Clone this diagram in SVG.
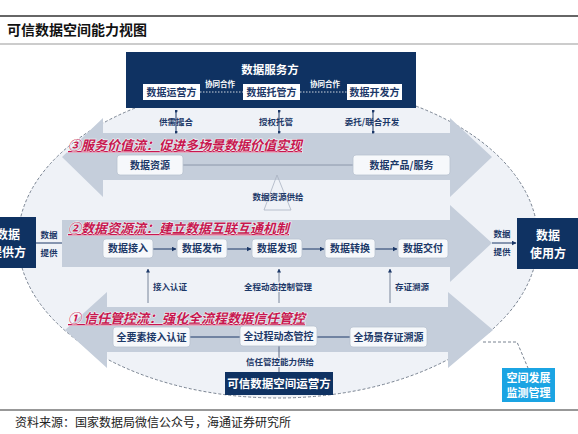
<svg xmlns="http://www.w3.org/2000/svg" width="578" height="434" viewBox="0 0 578 434">
<defs>
<style>
text{font-family:"Noto Sans CJK SC","Noto Sans",sans-serif}
.navy{fill:#0f3262}
.band{fill:#c5cedb}
.wbox{fill:#f6f8fb;stroke:#b9c3d1;stroke-width:0.8}
.wt{fill:#1c3868;font-weight:bold;font-size:10px;text-anchor:middle}
.sl{fill:#1c3868;font-weight:bold;font-size:8.5px;text-anchor:middle}
.flow{fill:#c8174f;font-weight:bold;font-style:italic;font-size:13px;stroke:#fff;stroke-width:1.2;stroke-opacity:0.7;paint-order:stroke;text-decoration:underline}
.ln{stroke:#1c3868;stroke-width:1;fill:none}
.dash{stroke:#fff;stroke-width:0.8;stroke-dasharray:1.5,1.5;fill:none}
</style>
<marker id="ah" viewBox="0 0 10 10" refX="9" refY="5" markerWidth="5" markerHeight="5" orient="auto-start-reverse">
<path d="M0,0 L10,5 L0,10 z" fill="#1c3868"/>
</marker>
<marker id="dot" viewBox="0 0 4 4" refX="2" refY="2" markerWidth="3" markerHeight="3">
<circle cx="2" cy="2" r="2" fill="#1c3868"/>
</marker>
</defs>
<rect width="578" height="434" fill="#fff"/>
<line x1="0" y1="16" x2="578" y2="16" stroke="#333" stroke-width="1.5"/>
<text x="7" y="35" font-size="14" font-weight="bold" fill="#111">可信数据空间能力视图</text>
<line x1="0" y1="44" x2="578" y2="44" stroke="#999" stroke-width="1"/>

<ellipse cx="278" cy="240" rx="260" ry="158" fill="#eff2f7" stroke="#6a7584" stroke-width="0.9" stroke-dasharray="3,2"/>

<g id="bands">
<polygon class="band" points="62,157 103,118 103,133 450,133 450,118 492,157 450,197 450,180 103,180 103,197"/>
<polygon class="band" points="62,220 450,220 450,205 492,243 450,282 450,267 62,267"/>
<polygon class="band" points="65,330 107,292 107,307 448,307 448,292 493,330 448,368 448,352 107,352 107,368"/>
</g>

<g id="connectors">
<line class="ln" x1="176" y1="111" x2="176" y2="132" marker-start="url(#dot)" marker-end="url(#dot)"/>
<line class="ln" x1="279" y1="111" x2="279" y2="132" marker-start="url(#dot)" marker-end="url(#dot)"/>
<line class="ln" x1="373" y1="111" x2="373" y2="132" marker-start="url(#dot)" marker-end="url(#dot)"/>
<line x1="183" y1="165" x2="353" y2="165" stroke="#7d8aa0" stroke-width="0.8"/>
<polygon points="277,175 264,210 291,210" fill="none" stroke="#a9b3c2" stroke-width="0.8"/>
<line class="ln" x1="36" y1="243" x2="62" y2="243"/>
<line class="ln" x1="492" y1="243" x2="516" y2="243" marker-end="url(#ah)"/>
<line class="ln" x1="153" y1="249" x2="176" y2="249" marker-end="url(#ah)"/>
<line class="ln" x1="227" y1="249" x2="251" y2="249" marker-end="url(#ah)"/>
<line class="ln" x1="302" y1="249" x2="324" y2="249" marker-end="url(#ah)"/>
<line class="ln" x1="375" y1="249" x2="397" y2="249" marker-end="url(#ah)"/>
<line x1="148" y1="303" x2="148" y2="269" stroke="#5c6b84" stroke-width="0.8" marker-end="url(#ah)"/>
<line x1="279" y1="303" x2="279" y2="269" stroke="#5c6b84" stroke-width="0.8" marker-end="url(#ah)"/>
<line x1="390" y1="303" x2="390" y2="269" stroke="#5c6b84" stroke-width="0.8" marker-end="url(#ah)"/>
<line class="ln" x1="190" y1="337" x2="240" y2="337"/>
<line class="ln" x1="317" y1="337" x2="350" y2="337"/>
<line x1="279" y1="372" x2="279" y2="345" stroke="#5c6b84" stroke-width="1"/>
<polyline points="483,342 517,342 528,368" fill="none" stroke="#6a7584" stroke-width="0.9" stroke-dasharray="3,2"/>
</g>

<g id="service-side">
<rect class="navy" x="126" y="52" width="290" height="56"/>
<text x="270" y="74" font-size="11.5" font-weight="bold" fill="#fff" text-anchor="middle">数据服务方</text>
<line class="dash" x1="200" y1="92" x2="243" y2="92"/>
<line class="dash" x1="300" y1="92" x2="347" y2="92"/>
<text x="220" y="87" font-size="7.5" font-weight="bold" fill="#fff" text-anchor="middle">协同合作</text>
<text x="325" y="87" font-size="7.5" font-weight="bold" fill="#fff" text-anchor="middle">协同合作</text>
</g>
<g id="n-operator"><rect x="143" y="84" width="57" height="16" fill="#fff"/><text class="wt" x="171.5" y="96">数据运营方</text></g>
<g id="n-custodian"><rect x="243" y="84" width="57" height="16" fill="#fff"/><text class="wt" x="271.5" y="96">数据托管方</text></g>
<g id="n-developer"><rect x="347" y="84" width="55" height="16" fill="#fff"/><text class="wt" x="374.5" y="96">数据开发方</text></g>

<g id="top-labels">
<rect x="158" y="117" width="36" height="10" fill="#eff2f7" opacity="0"/>
<text class="sl" x="176" y="125" font-size="8">供需撮合</text>
<text class="sl" x="276" y="125" font-size="8">授权托管</text>
<text class="sl" x="372" y="125" font-size="8">委托/联合开发</text>
</g>

<g id="flow3">
<text class="flow" x="68" y="150">③服务价值流：促进多场景数据价值实现</text>
</g>
<g id="n-resource"><rect class="wbox" x="117" y="155" width="66" height="20" rx="3"/><text class="wt" x="150" y="169">数据资源</text></g>
<g id="n-product"><rect class="wbox" x="353" y="155" width="97" height="20" rx="3"/><text class="wt" x="401.5" y="169">数据产品/服务</text></g>
<text class="sl" x="278" y="200">数据资源供给</text>

<g id="flow2">
<text class="flow" x="68" y="233">②数据资源流：建立数据互联互通机制</text>
</g>
<g id="n-provider">
<rect class="navy" x="-22" y="217" width="58" height="51"/>
<text x="8" y="239" font-size="12" font-weight="bold" fill="#fff" text-anchor="middle">数据</text>
<text x="8" y="257" font-size="12" font-weight="bold" fill="#fff" text-anchor="middle">提供方</text>
</g>
<text class="sl" x="49" y="238">数据</text>
<text class="sl" x="49" y="256">提供</text>
<g id="n-user">
<rect class="navy" x="517" y="218" width="65" height="51"/>
<text x="548" y="240" font-size="12" font-weight="bold" fill="#fff" text-anchor="middle">数据</text>
<text x="548" y="258" font-size="12" font-weight="bold" fill="#fff" text-anchor="middle">使用方</text>
</g>
<text class="sl" x="502" y="237">数据</text>
<text class="sl" x="502" y="255">提供</text>

<g id="n-access"><rect class="wbox" x="103" y="239" width="50" height="19" rx="3"/><text class="wt" x="128" y="252">数据接入</text></g>
<g id="n-publish"><rect class="wbox" x="177" y="239" width="50" height="19" rx="3"/><text class="wt" x="202" y="252">数据发布</text></g>
<g id="n-discover"><rect class="wbox" x="252" y="239" width="50" height="19" rx="3"/><text class="wt" x="277" y="252">数据发现</text></g>
<g id="n-convert"><rect class="wbox" x="325" y="239" width="50" height="19" rx="3"/><text class="wt" x="350" y="252">数据转换</text></g>
<g id="n-deliver"><rect class="wbox" x="398" y="239" width="50" height="19" rx="3"/><text class="wt" x="423" y="252">数据交付</text></g>

<text class="sl" x="170" y="290" font-size="9">接入认证</text>
<text class="sl" x="278" y="290" font-size="9" style="paint-order:stroke;stroke:#eff2f7;stroke-width:2">全程动态控制管理</text>
<text class="sl" x="412" y="290" font-size="9">存证溯源</text>

<g id="flow1">
<text class="flow" x="68" y="323">① 信任管控流：强化全流程数据信任管控</text>
</g>
<g id="n-allfactor"><rect class="wbox" x="113" y="327" width="77" height="20" rx="3"/><text class="wt" x="151.5" y="341">全要素接入认证</text></g>
<g id="n-allprocess"><rect class="wbox" x="240" y="326" width="77" height="20" rx="3"/><text class="wt" x="278.5" y="340">全过程动态管控</text></g>
<g id="n-allscene"><rect class="wbox" x="350" y="327" width="77" height="20" rx="3"/><text class="wt" x="388.5" y="341">全场景存证溯源</text></g>
<text class="sl" x="280" y="365" font-size="9" style="paint-order:stroke;stroke:#eff2f7;stroke-width:2">信任管控能力供给</text>

<g id="n-spaceop">
<rect class="navy" x="225" y="372" width="108" height="23"/>
<text x="279" y="388" font-size="11.5" font-weight="bold" fill="#fff" text-anchor="middle">可信数据空间运营方</text>
</g>

<g id="n-monitor">
<rect x="502" y="368" width="53" height="34" fill="#1ba4e3"/>
<text x="528.5" y="382" font-size="11" font-weight="bold" fill="#fff" text-anchor="middle">空间发展</text>
<text x="528.5" y="397" font-size="11" font-weight="bold" fill="#fff" text-anchor="middle">监测管理</text>
</g>

<line x1="0" y1="410" x2="578" y2="410" stroke="#333" stroke-width="1.2"/>
<text x="15" y="427" font-size="12" fill="#222">资料来源：国家数据局微信公众号，海通证券研究所</text>
</svg>
